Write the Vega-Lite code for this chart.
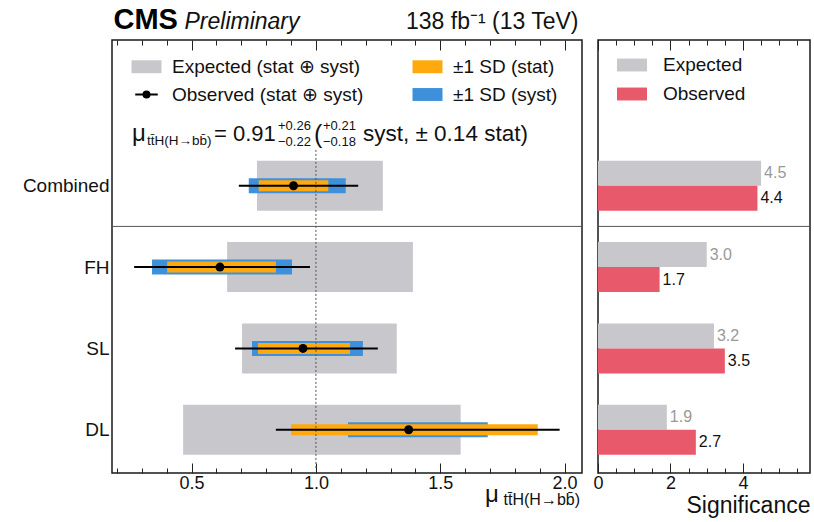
{
  "$schema": "https://vega.github.io/schema/vega-lite/v6.json",
  "background": "white",
  "padding": {"left": 21, "top": 4, "right": 2, "bottom": 4},
  "bounds": "flush",
  "datasets": {
    "mu": [
      {"cat": "Combined", "pos": 4, "exp_lo": 0.763, "exp_hi": 1.269, "mu": 0.91, "tot_lo": 0.69, "tot_hi": 1.17, "syst_lo": 0.73, "syst_hi": 1.12, "stat_lo": 0.77, "stat_hi": 1.05},
      {"cat": "FH", "pos": 3, "exp_lo": 0.643, "exp_hi": 1.39, "mu": 0.614, "tot_lo": 0.269, "tot_hi": 0.976, "syst_lo": 0.341, "syst_hi": 0.904, "stat_lo": 0.402, "stat_hi": 0.839},
      {"cat": "SL", "pos": 2, "exp_lo": 0.703, "exp_hi": 1.325, "mu": 0.948, "tot_lo": 0.675, "tot_hi": 1.249, "syst_lo": 0.743, "syst_hi": 1.189, "stat_lo": 0.767, "stat_hi": 1.137},
      {"cat": "DL", "pos": 1, "exp_lo": 0.466, "exp_hi": 1.582, "mu": 1.373, "tot_lo": 0.839, "tot_hi": 1.98, "syst_lo": 1.129, "syst_hi": 1.691, "stat_lo": 0.9, "stat_hi": 1.892}
    ],
    "sig": [
      {"cat": "Combined", "pos": 4, "exp": 4.5, "obs": 4.4},
      {"cat": "FH", "pos": 3, "exp": 3.0, "obs": 1.7},
      {"cat": "SL", "pos": 2, "exp": 3.2, "obs": 3.5},
      {"cat": "DL", "pos": 1, "exp": 1.9, "obs": 2.7}
    ]
  },
  "config": {
    "font": "Liberation Sans",
    "view": {"stroke": "#1a1a1a", "strokeWidth": 1.5},
    "axis": {"labelFont": "Liberation Sans", "labelFontSize": 18, "labelColor": "#111", "labelFlush": false, "tickColor": "#222", "tickWidth": 1, "domain": false, "grid": false, "titleFont": "Liberation Sans", "titleFontWeight": "normal", "titleColor": "#111"},
    "legend": {"labelFont": "Liberation Sans", "labelFontSize": 19, "labelColor": "#111", "labelLimit": 400},
    "text": {"font": "Liberation Sans", "color": "#111"}
  },
  "spacing": 16,
  "resolve": {"scale": {"x": "independent", "y": "independent", "color": "independent"}, "legend": {"color": "independent"}},
  "hconcat": [
    {
      "width": 470,
      "height": 433,
      "data": {"name": "mu"},
      "resolve": {"axis": {"x": "independent", "y": "independent"}},
      "layer": [
        {
          "mark": {"type": "bar", "height": 50},
          "encoding": {
            "x": {"field": "exp_lo", "type": "quantitative", "scale": {"domain": [0.18, 2.07], "nice": false, "zero": false},
              "axis": {"orient": "bottom", "values": [0.5, 1, 1.5, 2], "format": ".1f", "tickSize": -10, "labelPadding": 11, "title": null}},
            "x2": {"field": "exp_hi"},
            "y": {"field": "pos", "type": "quantitative", "scale": {"domain": [0.53, 5.73], "nice": false, "zero": false},
              "axis": {"orient": "left", "values": [1, 2, 3, 4], "labelExpr": "datum.value == 4 ? 'Combined' : datum.value == 3 ? 'FH' : datum.value == 2 ? 'SL' : 'DL'", "ticks": false, "labelFontSize": 19, "labelPadding": 3,
                "title": "CMS", "titleAngle": 0, "titleX": 1, "titleY": -12, "titleAlign": "left", "titleBaseline": "alphabetic", "titleFontSize": 29, "titleFontWeight": "bold", "titleColor": "#000"}},
            "color": {"datum": "Expected (stat ⊕ syst)", "type": "nominal",
              "scale": {"domain": ["Expected (stat ⊕ syst)", "Observed (stat ⊕ syst)", "±1 SD (stat)", "±1 SD (syst)"], "range": ["#c8c8cc", "#000000", "#ffa90e", "#3f90da"]},
              "legend": {"title": null, "orient": "none", "legendX": 25, "legendY": 17, "columns": 2, "columnPadding": 48, "rowPadding": 8, "symbolSize": 900, "labelOffset": 16, "labelFontSize": 19,
                "symbolType": "M-1,-0.43H1V0.43H-1Z", "symbolStrokeWidth": 0,
                "encode": {"symbols": {"update": {
                  "shape": {"signal": "datum.value === 'Observed (stat ⊕ syst)' ? 'M-0.75,0H0.75M-0.2,0A0.2,0.2,0,1,1,0.2,0A0.2,0.2,0,1,1,-0.2,0Z' : 'M-1,-0.43H1V0.43H-1Z'"},
                  "stroke": {"value": "black"},
                  "strokeWidth": {"signal": "datum.value === 'Observed (stat ⊕ syst)' ? 2 : 0"}
                }}}}}
          }
        },
        {
          "data": {"values": [{"k": "sep"}]},
          "mark": {"type": "rule", "color": "#555", "strokeWidth": 1},
          "encoding": {"y": {"datum": 3.5, "axis": null}}
        },
        {
          "mark": {"type": "bar", "height": 15},
          "encoding": {
            "x": {"field": "syst_lo", "type": "quantitative", "axis": {"orient": "bottom", "values": [0.2, 0.3, 0.4, 0.6, 0.7, 0.8, 0.9, 1.1, 1.2, 1.3, 1.4, 1.6, 1.7, 1.8, 1.9], "labels": false, "tickSize": -5, "title": null}},
            "x2": {"field": "syst_hi"},
            "y": {"field": "pos", "type": "quantitative", "axis": null},
            "color": {"datum": "±1 SD (syst)", "type": "nominal"}
          }
        },
        {
          "mark": {"type": "bar", "height": 11},
          "encoding": {
            "x": {"field": "stat_lo", "type": "quantitative", "axis": {"orient": "top", "values": [0.5, 1, 1.5, 2], "labels": false, "tickSize": -10,
              "title": "Preliminary", "titleX": 72, "titleY": -12, "titleAlign": "left", "titleAnchor": "start", "titleBaseline": "alphabetic", "titleFontStyle": "italic", "titleFontSize": 23, "titleAngle": 0}},
            "x2": {"field": "stat_hi"},
            "y": {"field": "pos", "type": "quantitative", "axis": null},
            "color": {"datum": "±1 SD (stat)", "type": "nominal"}
          }
        },
        {
          "data": {"values": [{"k": "ref"}]},
          "mark": {"type": "rule", "color": "#555", "strokeWidth": 1, "strokeDash": [2, 2]},
          "encoding": {"x": {"datum": 1, "axis": null}, "y": {"datum": 4.44, "axis": null}, "y2": {"datum": 0.53}}
        },
        {
          "mark": {"type": "rule", "color": "#000", "strokeWidth": 2},
          "encoding": {
            "x": {"field": "tot_lo", "type": "quantitative", "axis": {"orient": "top", "values": [0.2, 0.3, 0.4, 0.6, 0.7, 0.8, 0.9, 1.1, 1.2, 1.3, 1.4, 1.6, 1.7, 1.8, 1.9], "labels": false, "tickSize": -5,
              "title": "138 fb⁻¹ (13 TeV)", "titleX": 466, "titleY": -12, "titleAlign": "right", "titleAnchor": "end", "titleBaseline": "alphabetic", "titleFontSize": 23, "titleAngle": 0}},
            "x2": {"field": "tot_hi"},
            "y": {"field": "pos", "type": "quantitative", "axis": null}
          }
        },
        {
          "mark": {"type": "point", "filled": true, "size": 80, "color": "#000", "opacity": 1},
          "encoding": {
            "x": {"field": "mu", "type": "quantitative", "axis": null},
            "y": {"field": "pos", "type": "quantitative", "axis": null}
          }
        },
        {
          "data": {"values": [{"t": "μ"}]},
          "mark": {"type": "text", "align": "left", "baseline": "alphabetic", "fontSize": 24, "dx": 20},
          "encoding": {"x": {"datum": 0.18, "axis": null}, "y": {"datum": 4.553, "axis": null}, "text": {"field": "t"}}
        },
        {
          "data": {"values": [{"t": "tt̄H(H→bb̄)"}]},
          "mark": {"type": "text", "align": "left", "baseline": "alphabetic", "fontSize": 13.5, "dx": 35, "dy": 4},
          "encoding": {"x": {"datum": 0.18, "axis": null}, "y": {"datum": 4.553, "axis": null}, "text": {"field": "t"}}
        },
        {
          "data": {"values": [{"t": "= 0.91"}]},
          "mark": {"type": "text", "align": "left", "baseline": "alphabetic", "fontSize": 22, "dx": 102},
          "encoding": {"x": {"datum": 0.18, "axis": null}, "y": {"datum": 4.553, "axis": null}, "text": {"field": "t"}}
        },
        {
          "data": {"values": [{"t": "+0.26"}]},
          "mark": {"type": "text", "align": "left", "baseline": "alphabetic", "fontSize": 13, "dx": 166, "dy": -11},
          "encoding": {"x": {"datum": 0.18, "axis": null}, "y": {"datum": 4.553, "axis": null}, "text": {"field": "t"}}
        },
        {
          "data": {"values": [{"t": "−0.22"}]},
          "mark": {"type": "text", "align": "left", "baseline": "alphabetic", "fontSize": 13, "dx": 166, "dy": 5},
          "encoding": {"x": {"datum": 0.18, "axis": null}, "y": {"datum": 4.553, "axis": null}, "text": {"field": "t"}}
        },
        {
          "data": {"values": [{"t": "("}]},
          "mark": {"type": "text", "align": "left", "baseline": "alphabetic", "fontSize": 25, "dx": 202, "dy": 2},
          "encoding": {"x": {"datum": 0.18, "axis": null}, "y": {"datum": 4.553, "axis": null}, "text": {"field": "t"}}
        },
        {
          "data": {"values": [{"t": "+0.21"}]},
          "mark": {"type": "text", "align": "left", "baseline": "alphabetic", "fontSize": 13, "dx": 211, "dy": -11},
          "encoding": {"x": {"datum": 0.18, "axis": null}, "y": {"datum": 4.553, "axis": null}, "text": {"field": "t"}}
        },
        {
          "data": {"values": [{"t": "−0.18"}]},
          "mark": {"type": "text", "align": "left", "baseline": "alphabetic", "fontSize": 13, "dx": 211, "dy": 5},
          "encoding": {"x": {"datum": 0.18, "axis": null}, "y": {"datum": 4.553, "axis": null}, "text": {"field": "t"}}
        },
        {
          "data": {"values": [{"t": "syst, ± 0.14 stat)"}]},
          "mark": {"type": "text", "align": "left", "baseline": "alphabetic", "fontSize": 22.5, "dx": 251},
          "encoding": {"x": {"datum": 0.18, "axis": null}, "y": {"datum": 4.553, "axis": null}, "text": {"field": "t"}}
        },
        {
          "data": {"values": [{"t": "μ"}]},
          "mark": {"type": "text", "align": "left", "baseline": "alphabetic", "fontSize": 24, "dx": -97, "dy": 34},
          "encoding": {"x": {"datum": 2.07, "axis": null}, "y": {"datum": 0.53, "axis": null}, "text": {"field": "t"}}
        },
        {
          "data": {"values": [{"t": "tt̄H(H→bb̄)"}]},
          "mark": {"type": "text", "align": "right", "baseline": "alphabetic", "fontSize": 16, "dx": -2, "dy": 37},
          "encoding": {"x": {"datum": 2.07, "axis": null}, "y": {"datum": 0.53, "axis": null}, "text": {"field": "t"}}
        }
      ]
    },
    {
      "width": 212,
      "height": 433,
      "data": {"name": "sig"},
      "resolve": {"axis": {"x": "independent", "y": "independent"}},
      "layer": [
        {
          "mark": {"type": "bar", "height": 25, "yOffset": -12.5},
          "encoding": {
            "x": {"field": "exp", "type": "quantitative", "scale": {"domain": [0, 5.85], "nice": false, "zero": false},
              "axis": {"orient": "bottom", "values": [0, 2, 4], "format": "d", "tickSize": -10, "labelPadding": 11, "title": "Significance", "titleFontSize": 23, "titleAnchor": "end", "titlePadding": 2}},
            "x2": {"datum": 0},
            "y": {"field": "pos", "type": "quantitative", "scale": {"domain": [0.53, 5.73], "nice": false, "zero": false}, "axis": null},
            "color": {"datum": "Expected", "type": "nominal",
              "scale": {"domain": ["Expected", "Observed"], "range": ["#c8c8cc", "#e8596b"]},
              "legend": {"title": null, "orient": "none", "legendX": 19, "legendY": 10, "columns": 1, "rowPadding": 4, "symbolSize": 900, "labelOffset": 16, "labelFontSize": 19,
                "symbolType": "M-1,-0.43H1V0.43H-1Z", "symbolStrokeWidth": 0}}
          }
        },
        {
          "mark": {"type": "bar", "height": 25, "yOffset": 12.5},
          "encoding": {
            "x": {"field": "obs", "type": "quantitative", "axis": {"orient": "bottom", "values": [0.5, 1, 1.5, 2.5, 3, 3.5, 4.5, 5, 5.5], "labels": false, "tickSize": -5, "title": null}},
            "x2": {"datum": 0},
            "y": {"field": "pos", "type": "quantitative", "axis": null},
            "color": {"datum": "Observed", "type": "nominal"}
          }
        },
        {
          "data": {"values": [{"k": "sep"}]},
          "mark": {"type": "rule", "color": "#555", "strokeWidth": 1},
          "encoding": {"y": {"datum": 3.5, "axis": null}}
        },
        {
          "mark": {"type": "text", "align": "left", "baseline": "middle", "dx": 3, "yOffset": -12.5, "fontSize": 16, "color": "#999"},
          "encoding": {
            "x": {"field": "exp", "type": "quantitative", "axis": {"orient": "top", "values": [0, 2, 4], "labels": false, "tickSize": -10, "title": null}},
            "y": {"field": "pos", "type": "quantitative", "axis": null},
            "text": {"field": "exp", "type": "quantitative", "format": ".1f"}
          }
        },
        {
          "mark": {"type": "text", "align": "left", "baseline": "middle", "dx": 3, "yOffset": 12.5, "fontSize": 16, "color": "#111"},
          "encoding": {
            "x": {"field": "obs", "type": "quantitative", "axis": {"orient": "top", "values": [0.5, 1, 1.5, 2.5, 3, 3.5, 4.5, 5, 5.5], "labels": false, "tickSize": -5, "title": null}},
            "y": {"field": "pos", "type": "quantitative", "axis": null},
            "text": {"field": "obs", "type": "quantitative", "format": ".1f"}
          }
        }
      ]
    }
  ]
}
